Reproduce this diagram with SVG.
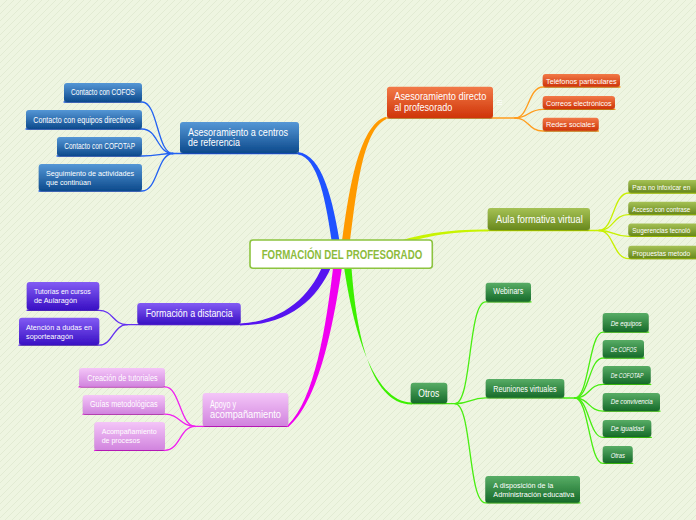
<svg xmlns="http://www.w3.org/2000/svg" width="696" height="520" viewBox="0 0 696 520">
<defs>
<pattern id="bgp" patternUnits="userSpaceOnUse" width="7" height="7">
<rect width="7" height="7" fill="#eef5e1"/>
<path d="M-1,8 L8,-1" stroke="#e2ebd3" stroke-width="1"/>
</pattern>
<linearGradient id="gB" x1="0" y1="0" x2="0" y2="1"><stop offset="0" stop-color="#5597d6"/><stop offset="1" stop-color="#0c4a8c"/></linearGradient>
<linearGradient id="gO" x1="0" y1="0" x2="0" y2="1"><stop offset="0" stop-color="#f27a48"/><stop offset="1" stop-color="#cf3408"/></linearGradient>
<linearGradient id="gY" x1="0" y1="0" x2="0" y2="1"><stop offset="0" stop-color="#a6c255"/><stop offset="1" stop-color="#68881c"/></linearGradient>
<linearGradient id="gP" x1="0" y1="0" x2="0" y2="1"><stop offset="0" stop-color="#835cf4"/><stop offset="1" stop-color="#3910c4"/></linearGradient>
<linearGradient id="gM" x1="0" y1="0" x2="0" y2="1"><stop offset="0" stop-color="#f4c6f8"/><stop offset="1" stop-color="#d184de"/></linearGradient>
<linearGradient id="gG" x1="0" y1="0" x2="0" y2="1"><stop offset="0" stop-color="#58ad66"/><stop offset="1" stop-color="#166a29"/></linearGradient>
<filter id="sh" x="-10%" y="-20%" width="120%" height="150%"><feDropShadow dx="0" dy="1" stdDeviation="0.7" flood-color="#000" flood-opacity="0.25"/></filter>
</defs>
<style>
.n rect{rx:3px;ry:3px;filter:url(#sh);}
.t{fill:#fff;font-family:"Liberation Sans",Arial,sans-serif;}
.s{font-size:8.5px;}
.s2{font-size:8px;}
.x{font-size:8px;}
.m{font-size:11px;}
.m2{font-size:10px;}
.i{font-style:italic;font-size:8px;}
.c{fill:none;stroke-width:1.3;stroke-linecap:round;}
.cb{stroke:#2262f2;}
.co{stroke:#ff9d1e;}
.cy{stroke:#c8f000;}
.cp{stroke:#6430f2;}
.cm{stroke:#f020f0;}
.cg{stroke:#48ee10;}
</style>
<rect width="696" height="520" fill="url(#bgp)"/>

<g id="connectors">
<path d="M341,250 C333,198 322,155 298,152 L298,154.5 C318,158 326,200 333,250 Z" fill="#1f52ff"/>
<path d="M341,250 C348,195 358,125 386,116.8 L386,119.3 C362,130 356,195 349,250 Z" fill="#ff9a00"/>
<path d="M384,246 C420,233 450,229.3 488,229.5 L488,231.5 C450,231.5 420,236 388,250 Z" fill="#c8f400"/>
<path d="M325,260 C312,295 285,321 240,323.5 L240,325.5 C290,325 320,298 334,260 Z" fill="#5614f0"/>
<path d="M334,260 C326,330 314,400 288,425 L288,427.3 C318,402 333,330 343,260 Z" fill="#f000f0"/>
<path d="M343,260 C352,325 372,402 412,402.5 L412,404.5 C368,404.5 355,325 351,260 Z" fill="#3cf000"/>
<path class="c cb" stroke-width="2" d="M173,153.5 H298"/>
<path class="c cb" d="M173,153.5 C157,153.5 158,102 142,102 H64"/>
<path class="c cb" d="M173,153.5 C157,153.5 158,129 142,129 H26"/>
<path class="c cb" d="M173,153.5 C160,153.5 158,156 142,156 H57"/>
<path class="c cb" d="M173,153.5 C157,153.5 158,191 142,191 H39"/>
<path class="c co" stroke-width="2" d="M386,118 H515"/>
<path class="c co" d="M515,118 C529,118 528,87 543,87 H620"/>
<path class="c co" d="M515,118 C529,118 528,109.3 543,109.3 H615"/>
<path class="c co" d="M515,118 C529,118 528,131 543,131 H598.5"/>
<path class="c cy" stroke-width="2" d="M488,230.5 H599"/>
<path class="c cy" d="M599,230.5 C614,230.5 613,193 628.5,193 H696"/>
<path class="c cy" d="M599,230.5 C614,230.5 613,214.6 628.5,214.6 H696"/>
<path class="c cy" d="M599,230.5 C614,230.5 613,236.3 628.5,236.3 H696"/>
<path class="c cy" d="M599,230.5 C614,230.5 613,258.6 628.5,258.6 H696"/>
<path class="c cp" stroke-width="2" d="M127,324.7 H240"/>
<path class="c cp" d="M127,324.7 C113,324.7 113,310.3 99,310.3 H27"/>
<path class="c cp" d="M127,324.7 C113,324.7 113,345.2 99,345.2 H19"/>
<path class="c cm" stroke-width="2" d="M195,426.3 H288"/>
<path class="c cm" d="M195,426.3 C180,426.3 180,386.9 165,386.9 H79"/>
<path class="c cm" d="M195,426.3 C180,426.3 180,414.2 165,414.2 H83"/>
<path class="c cm" d="M195,426.3 C180,426.3 180,450.3 165,450.3 H94.5"/>
<path class="c cg" stroke-width="2" d="M411,403.6 H455"/>
<path class="c cg" d="M455,403.6 C472,403.6 468,301.9 485.7,301.9 H531"/>
<path class="c cg" d="M455,403.6 C470,403.6 470,397.9 485.7,397.9 H564"/>
<path class="c cg" d="M455,403.6 C472,403.6 468,502.9 485.5,502.9 H580"/>
<path class="c cg" stroke-width="2.2" d="M564,398 H575"/>
<path class="c cg" d="M575,398 C589,398 589,332.2 603,332.2 H648.7"/>
<path class="c cg" d="M575,398 C589,398 589,358 603,358 H644"/>
<path class="c cg" d="M575,398 C589,398 589,384.4 603,384.4 H650.7"/>
<path class="c cg" d="M575,398 C589,398 589,411.2 603,411.2 H660"/>
<path class="c cg" d="M575,398 C589,398 589,437.4 603,437.4 H651.3"/>
<path class="c cg" d="M575,398 C589,398 589,463.4 603,463.4 H632.7"/>
</g>

<g id="central">
<rect x="250" y="240" width="182.3" height="28.3" rx="3" fill="#ffffff" stroke="#8cc43f" stroke-width="1.6"/>
<text x="261.7" y="259.3" font-family="Liberation Sans, Arial, sans-serif" font-size="13" font-weight="bold" fill="#8dbb3c" textLength="160.5" lengthAdjust="spacingAndGlyphs">FORMACIÓN DEL PROFESORADO</text>
</g>

<g id="n-centros" class="n"><rect x="180" y="122" width="119" height="31" fill="url(#gB)"/>
<text class="t m2" x="188" y="135.7" textLength="100" lengthAdjust="spacingAndGlyphs">Asesoramiento a centros</text>
<text class="t m2" x="188" y="146.2" textLength="52" lengthAdjust="spacingAndGlyphs">de referencia</text></g>
<g id="n-cofos" class="n"><rect x="64" y="83" width="78" height="19" fill="url(#gB)"/>
<text class="t s" x="71" y="95" textLength="64" lengthAdjust="spacingAndGlyphs">Contacto con COFOS</text></g>
<g id="n-equipos" class="n"><rect x="26" y="110" width="116" height="19" fill="url(#gB)"/>
<text class="t s" x="33.3" y="122.5" textLength="101" lengthAdjust="spacingAndGlyphs">Contacto con equipos directivos</text></g>
<g id="n-cofotap" class="n"><rect x="57" y="137" width="85" height="19" fill="url(#gB)"/>
<text class="t s" x="64.3" y="149.3" textLength="70.7" lengthAdjust="spacingAndGlyphs">Contacto con COFOTAP</text></g>
<g id="n-seguimiento" class="n"><rect x="38.7" y="164" width="103.3" height="27" fill="url(#gB)"/>
<text class="t s2" x="46" y="176" textLength="88" lengthAdjust="spacingAndGlyphs">Seguimiento de actividades</text>
<text class="t s2" x="46" y="184.6" textLength="45" lengthAdjust="spacingAndGlyphs">que continúan</text></g>

<g id="n-directo" class="n"><rect x="387" y="86.7" width="106" height="31.3" fill="url(#gO)"/>
<text class="t m2" x="394.3" y="100" textLength="92" lengthAdjust="spacingAndGlyphs">Asesoramiento directo</text>
<text class="t m2" x="394.3" y="110.6" textLength="58" lengthAdjust="spacingAndGlyphs">al profesorado</text>
<path d="M497,100.5 H502 M497,102.5 H502 M497,104.5 H502" stroke="#ffffff" stroke-width="0.8" opacity="0.8"/></g>
<g id="n-telefonos" class="n"><rect x="542.7" y="74" width="77.3" height="12.7" fill="url(#gO)"/>
<text class="t x" x="546" y="84" textLength="70.7" lengthAdjust="spacingAndGlyphs">Teléfonos particulares</text></g>
<g id="n-correos" class="n"><rect x="542.7" y="96" width="72.3" height="13" fill="url(#gO)"/>
<text class="t x" x="546" y="106" textLength="65.7" lengthAdjust="spacingAndGlyphs">Correos electrónicos</text></g>
<g id="n-redes" class="n"><rect x="542.7" y="117.7" width="56" height="13" fill="url(#gO)"/>
<text class="t x" x="546" y="127.3" textLength="49" lengthAdjust="spacingAndGlyphs">Redes sociales</text></g>

<g id="n-aula" class="n"><rect x="487.7" y="208" width="102.3" height="22" fill="url(#gY)"/>
<text class="t m" x="496" y="223" textLength="86.7" lengthAdjust="spacingAndGlyphs">Aula formativa virtual</text></g>
<g id="n-infoxicar" class="n"><rect x="628.3" y="180" width="80" height="12.7" fill="url(#gY)"/>
<text class="t x" x="632.3" y="190" textLength="58" lengthAdjust="spacingAndGlyphs">Para no infoxicar en</text></g>
<g id="n-acceso" class="n"><rect x="628.3" y="201.7" width="80" height="12.7" fill="url(#gY)"/>
<text class="t x" x="632.3" y="211.7" textLength="58" lengthAdjust="spacingAndGlyphs">Acceso con contrase</text></g>
<g id="n-sugerencias" class="n"><rect x="628.3" y="223.4" width="80" height="12.7" fill="url(#gY)"/>
<text class="t x" x="632.3" y="233.4" textLength="58" lengthAdjust="spacingAndGlyphs">Sugerencias tecnoló</text></g>
<g id="n-propuestas" class="n"><rect x="628.3" y="245.7" width="80" height="12.7" fill="url(#gY)"/>
<text class="t x" x="632.3" y="255.6" textLength="58" lengthAdjust="spacingAndGlyphs">Propuestas metodo</text></g>

<g id="n-distancia" class="n"><rect x="137.3" y="303" width="103.4" height="21.3" fill="url(#gP)"/>
<text class="t m" x="145.7" y="317.3" textLength="87" lengthAdjust="spacingAndGlyphs">Formación a distancia</text></g>
<g id="n-tutorias" class="n"><rect x="26.7" y="282" width="72.6" height="28" fill="url(#gP)"/>
<text class="t s2" x="34" y="294" textLength="56.7" lengthAdjust="spacingAndGlyphs">Tutorías en cursos</text>
<text class="t s2" x="34" y="303" textLength="43" lengthAdjust="spacingAndGlyphs">de Aularagón</text></g>
<g id="n-atencion" class="n"><rect x="19" y="317.7" width="80.3" height="27.3" fill="url(#gP)"/>
<text class="t s2" x="26" y="330" textLength="66" lengthAdjust="spacingAndGlyphs">Atención a dudas en</text>
<text class="t s2" x="26" y="338.6" textLength="47" lengthAdjust="spacingAndGlyphs">soportearagón</text></g>

<g id="n-apoyo" class="n"><rect x="202.7" y="393" width="85.6" height="33" fill="url(#gM)"/>
<text class="t m2" x="210" y="407.8" textLength="26" lengthAdjust="spacingAndGlyphs">Apoyo y</text>
<text class="t m2" x="210" y="417.8" textLength="71" lengthAdjust="spacingAndGlyphs">acompañamiento</text></g>
<g id="n-creacion" class="n"><rect x="79" y="368" width="86" height="18.7" fill="url(#gM)"/>
<text class="t s" x="87.3" y="380.5" textLength="70.3" lengthAdjust="spacingAndGlyphs">Creación de tutoriales</text></g>
<g id="n-guias" class="n"><rect x="82.7" y="395" width="82.3" height="19" fill="url(#gM)"/>
<text class="t s" x="90" y="407.3" textLength="67.7" lengthAdjust="spacingAndGlyphs">Guías metodológicas</text></g>
<g id="n-acomp" class="n"><rect x="94.3" y="422" width="70.7" height="28" fill="url(#gM)"/>
<text class="t s2" x="101.7" y="434" textLength="55" lengthAdjust="spacingAndGlyphs">Acompañamiento</text>
<text class="t s2" x="101.7" y="442.6" textLength="38.3" lengthAdjust="spacingAndGlyphs">de procesos</text></g>

<g id="n-otros" class="n"><rect x="410.7" y="382.7" width="36.6" height="20.6" fill="url(#gG)"/>
<text class="t m" x="418.3" y="396.7" textLength="21" lengthAdjust="spacingAndGlyphs">Otros</text></g>
<g id="n-webinars" class="n"><rect x="485.7" y="282.7" width="45.3" height="19" fill="url(#gG)"/>
<text class="t s" x="493.3" y="294.3" textLength="30" lengthAdjust="spacingAndGlyphs">Webinars</text></g>
<g id="n-reuniones" class="n"><rect x="485.7" y="379" width="78.6" height="18.7" fill="url(#gG)"/>
<text class="t s" x="493.3" y="392" textLength="63.3" lengthAdjust="spacingAndGlyphs">Reuniones virtuales</text></g>
<g id="n-admin" class="n"><rect x="485.3" y="476" width="94.7" height="26.7" fill="url(#gG)"/>
<text class="t s2" x="493.3" y="488.2" textLength="60" lengthAdjust="spacingAndGlyphs">A disposición de la</text>
<text class="t s2" x="493.3" y="496.8" textLength="81" lengthAdjust="spacingAndGlyphs">Administración educativa</text></g>
<g id="n-de-equipos" class="n"><rect x="602.7" y="313" width="46" height="19" fill="url(#gG)"/>
<text class="t i" x="610.7" y="326" textLength="31" lengthAdjust="spacingAndGlyphs">De equipos</text></g>
<g id="n-de-cofos" class="n"><rect x="602.7" y="340" width="41.3" height="17.7" fill="url(#gG)"/>
<text class="t i" x="610.7" y="351.7" textLength="26" lengthAdjust="spacingAndGlyphs">De COFOS</text></g>
<g id="n-de-cofotap" class="n"><rect x="602.7" y="366" width="48" height="18" fill="url(#gG)"/>
<text class="t i" x="610.7" y="378.3" textLength="32.7" lengthAdjust="spacingAndGlyphs">De COFOTAP</text></g>
<g id="n-de-convivencia" class="n"><rect x="602.7" y="393" width="57.3" height="18" fill="url(#gG)"/>
<text class="t i" x="610.7" y="404.3" textLength="42" lengthAdjust="spacingAndGlyphs">De convivencia</text></g>
<g id="n-de-igualdad" class="n"><rect x="602.7" y="420" width="48.6" height="17" fill="url(#gG)"/>
<text class="t i" x="610.7" y="431" textLength="33.3" lengthAdjust="spacingAndGlyphs">De igualdad</text></g>
<g id="n-otras" class="n"><rect x="602.7" y="446" width="30" height="17" fill="url(#gG)"/>
<text class="t i" x="610.7" y="457.7" textLength="14.3" lengthAdjust="spacingAndGlyphs">Otras</text></g>
</svg>
